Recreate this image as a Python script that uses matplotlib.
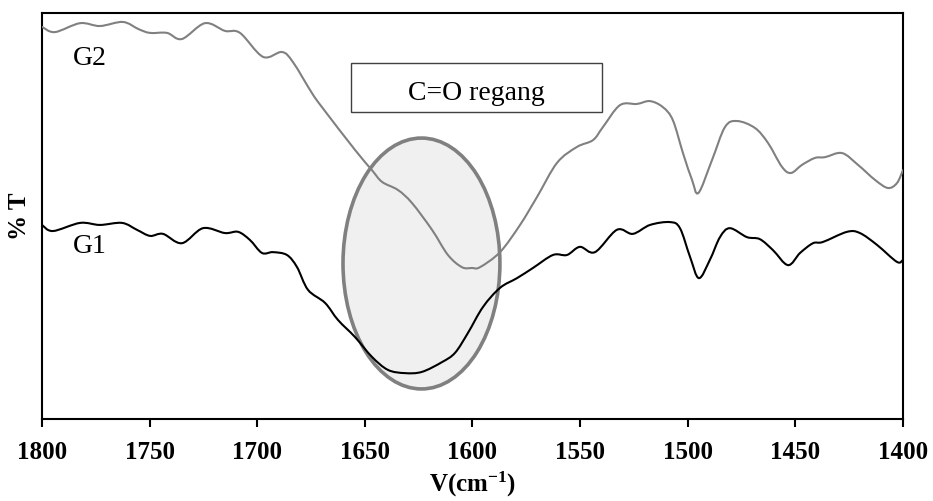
import matplotlib
matplotlib.use("Agg")
import matplotlib.pyplot as plt
from matplotlib.patches import Ellipse, Rectangle, PathPatch
from matplotlib.path import Path

plt.rcParams["font.family"] = ["Liberation Serif", "DejaVu Serif"]
plt.rcParams["mathtext.fontset"] = "custom"
plt.rcParams["mathtext.bf"] = "Liberation Serif:bold"
plt.rcParams["mathtext.rm"] = "Liberation Serif"

# FTIR transmittance spectra, 1800-1400 cm-1 (arbitrary %T scale)
g2_wavenumber = [1800, 1794.0, 1782.3, 1773.1, 1762.4, 1755.0, 1749.8, 1741.9, 1735.0,
                 1724.3, 1715.0, 1708.0, 1697.3, 1688.5, 1683.4, 1674.6, 1669.9,
                 1654.6, 1646.7, 1642.0, 1634.6, 1628.1, 1618.8, 1611.4, 1604.9,
                 1600.2, 1596.5, 1587.2, 1577.9, 1570.0, 1560.7, 1551.5, 1544.0,
                 1539.4, 1531.5, 1523.6, 1517.5, 1511.5, 1506.9, 1502.2, 1498.0,
                 1495.0, 1488.7, 1482.7, 1477.1, 1468.8, 1462.7, 1456.2, 1452.0,
                 1446.9, 1440.9, 1436.2, 1428.3, 1420.9, 1413.0, 1407.0, 1402.8, 1400]
g2_transmittance = [96.6, 95.3, 97.5, 96.8, 97.8, 96.0, 95.1, 95.1, 93.6,
                    97.5, 95.6, 95.1, 89.2, 90.4, 87.9, 80.3, 76.8,
                    66.3, 61.3, 58.4, 56.4, 53.2, 46.6, 40.4, 37.4,
                    37.2, 37.4, 41.1, 47.8, 54.7, 63.1, 67.0, 68.7,
                    71.9, 77.3, 77.6, 78.3, 76.8, 73.6, 65.5, 58.9,
                    55.7, 63.8, 71.9, 73.4, 71.7, 68.0, 62.1, 60.6,
                    62.6, 64.3, 64.5, 65.5, 62.6, 58.9, 56.9, 58.1, 61.3]

g1_wavenumber = [1800, 1794.9, 1782.3, 1773.1, 1762.8, 1755.9, 1749.8, 1743.8, 1735.0,
                 1725.2, 1715.0, 1708.9, 1703.4, 1697.8, 1692.7, 1686.2, 1681.5,
                 1676.4, 1668.5, 1662.5, 1654.6, 1646.7, 1639.3, 1631.4, 1623.5,
                 1614.2, 1608.1, 1602.1, 1595.1, 1587.2, 1579.3, 1571.9, 1562.6,
                 1556.1, 1550.1, 1543.1, 1532.9, 1525.5, 1517.5, 1508.2, 1503.6,
                 1498.9, 1494.8, 1489.7, 1485.0, 1480.4, 1472.5, 1466.5, 1460.4,
                 1453.4, 1447.8, 1441.8, 1437.2, 1426.0, 1420.0, 1412.1, 1402.8, 1400]
g1_transmittance = [47.8, 46.3, 48.3, 47.8, 48.3, 46.6, 45.1, 45.6, 43.3,
                    47.0, 45.8, 46.1, 44.1, 40.9, 41.1, 40.4, 37.4,
                    31.8, 28.6, 24.4, 20.2, 15.3, 12.1, 11.3, 11.6,
                    14.0, 16.3, 21.2, 27.6, 32.3, 34.7, 37.2, 40.4,
                    40.4, 42.4, 41.1, 46.6, 45.6, 47.8, 48.5, 47.0,
                    39.9, 34.7, 39.2, 44.8, 47.0, 44.8, 44.3, 41.6,
                    37.9, 40.9, 43.3, 43.6, 46.1, 45.8, 42.9, 38.7, 39.2]

x_ticks = [1800, 1750, 1700, 1650, 1600, 1550, 1500, 1450, 1400]


def smooth_path(xs, ys):
    """Smoothed line through the points (Catmull-Rom segments as cubic Beziers)."""
    pts = list(zip(xs, ys))
    n = len(pts)
    verts = [pts[0]]
    codes = [Path.MOVETO]
    for i in range(n - 1):
        p0 = pts[max(i - 1, 0)]
        p1 = pts[i]
        p2 = pts[i + 1]
        p3 = pts[min(i + 2, n - 1)]
        c1 = (p1[0] + (p2[0] - p0[0]) / 6.0, p1[1] + (p2[1] - p0[1]) / 6.0)
        c2 = (p2[0] - (p3[0] - p1[0]) / 6.0, p2[1] - (p3[1] - p1[1]) / 6.0)
        verts += [c1, c2, p2]
        codes += [Path.CURVE4] * 3
    return Path(verts, codes)


fig = plt.figure(figsize=(9.33, 5.01), dpi=100)
ax = fig.add_axes([0.045, 0.1637, 0.9228, 0.8103])

# highlighted C=O stretching region
ax.add_patch(Ellipse((1623.7, 38.3), 72.9, 61.8, facecolor="#f0f0f0",
                     edgecolor="#808080", linewidth=2.6, zorder=1))

ax.add_patch(PathPatch(smooth_path(g2_wavenumber, g2_transmittance), fill=False,
                       edgecolor="#808080", linewidth=1.5, capstyle="round",
                       joinstyle="round", zorder=3))
ax.add_patch(PathPatch(smooth_path(g1_wavenumber, g1_transmittance), fill=False,
                       edgecolor="black", linewidth=1.5, capstyle="round",
                       joinstyle="round", zorder=3))

ax.text(0.036, 0.872, "G2", transform=ax.transAxes, fontsize=20, va="baseline")
ax.text(0.036, 0.409, "G1", transform=ax.transAxes, fontsize=20, va="baseline")

ax.add_patch(Rectangle((0.359, 0.756), 0.291, 0.121, transform=ax.transAxes,
                       facecolor="white", edgecolor="#404040", linewidth=1.0, zorder=4))
ax.text(0.505, 0.786, "C=O regang", transform=ax.transAxes, fontsize=20,
        ha="center", va="baseline", zorder=5)

ax.set_xlim(1800, 1400)
ax.set_ylim(0, 100)
ax.set_xticks(x_ticks)
ax.set_xticklabels([str(t) for t in x_ticks], fontsize=18, fontweight="bold")
ax.set_yticks([])
ax.tick_params(axis="x", direction="out", length=6, width=1.5, pad=10)
for spine in ax.spines.values():
    spine.set_linewidth(1.5)

ax.set_xlabel(r"$\mathbf{V(cm^{-1})}$", fontsize=18, labelpad=4)
ax.set_ylabel("% T", fontsize=18, fontweight="bold", labelpad=8)

fig.savefig("out.png", dpi=100)
